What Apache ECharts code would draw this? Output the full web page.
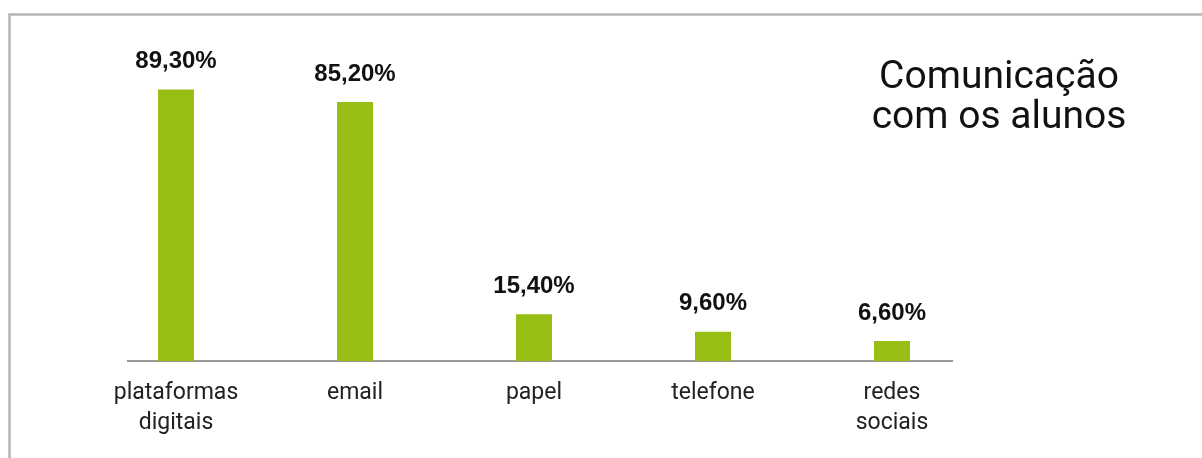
<!DOCTYPE html>
<html>
<head>
<meta charset="utf-8">
<script src="https://cdn.jsdelivr.net/npm/echarts@6/dist/echarts.min.js"></script>
<style>
html,body{margin:0;padding:0;background:#fff;}
#chart{width:1202px;height:458px;}
</style>
</head>
<body>
<div id="chart"></div>
<script>
const categories = ['plataformas\ndigitais', 'email', 'papel', 'telefone', 'redes\nsociais'];
const values = [89.3, 85.2, 15.4, 9.6, 6.6];
const titleText = 'Comunicação\ncom os alunos';

const chart = echarts.init(document.getElementById('chart'));
chart.setOption({
  backgroundColor: '#ffffff',
  animation: false,
  title: {
    text: titleText,
    left: 999,
    top: 58,
    textAlign: 'center',
    padding: 0,
    textStyle: {
      fontFamily: 'Roboto',
      fontSize: 39,
      fontWeight: 'normal',
      lineHeight: 40,
      color: '#111111'
    }
  },
  grid: { left: 86.5, width: 895, top: 57, bottom: 97 },
  xAxis: {
    type: 'category',
    data: categories,
    axisLine: { show: false },
    axisTick: { show: false },
    axisLabel: {
      margin: 17,
      fontFamily: 'Roboto',
      fontSize: 23,
      lineHeight: 30,
      color: '#222222'
    }
  },
  yAxis: {
    type: 'value',
    min: 0,
    max: 100,
    show: false
  },
  series: [{
    type: 'bar',
    data: values,
    barWidth: 36,
    itemStyle: { color: '#96BE14' },
    label: {
      show: true,
      position: 'top',
      distance: 16,
      fontFamily: 'Liberation Sans',
      fontWeight: 'bold',
      fontSize: 24,
      color: '#111111',
      formatter: p => p.value.toFixed(2).replace('.', ',') + '%'
    }
  }],
  graphic: [
    {
      type: 'polyline',
      shape: { points: [[9.5, 460], [9.5, 14.5], [1204, 14.5]] },
      style: { stroke: '#b5b5b5', lineWidth: 2.5, fill: null }
    },
    {
      type: 'line',
      shape: { x1: 127, y1: 361, x2: 953, y2: 361 },
      style: { stroke: '#999999', lineWidth: 2 }
    }
  ]
});
</script>
</body>
</html>
